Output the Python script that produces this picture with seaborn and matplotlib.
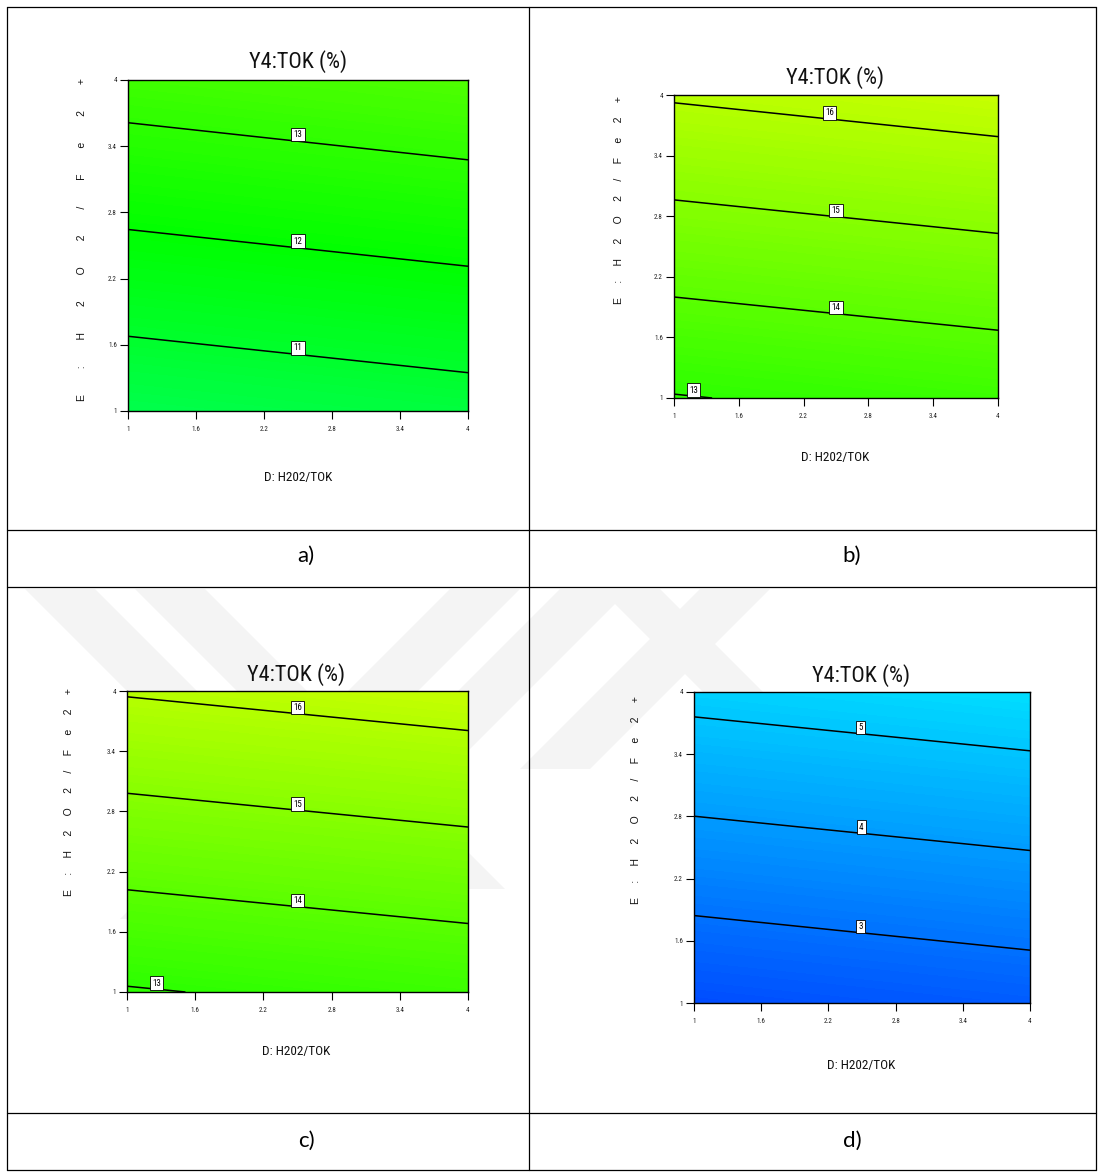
import numpy as np
import matplotlib
matplotlib.use("Agg")
import matplotlib.pyplot as plt
import seaborn as sns
from matplotlib.lines import Line2D
from matplotlib.patches import Polygon

# ---------------- data ----------------
axis_ticks = [1, 1.6, 2.2, 2.8, 3.4, 4]
tick_labels = ["1", "1.6", "2.2", "2.8", "3.4", "4"]
d_range = [1, 4]          # D: H2O2/TOK
e_range = [1, 4]          # E: H2O2/Fe2+
# response at the corners of the design space; rows: E=1, E=4 ; cols: D=1, D=4
z_a = [[10.30, 10.64], [13.40, 13.75]]
z_b = [[12.96, 13.30], [16.08, 16.43]]
z_c = [[12.94, 13.29], [16.06, 16.41]]
z_d = [[2.12, 2.47], [5.25, 5.59]]
levels_a = [11, 12, 13]
levels_b = [13, 14, 15, 16]
levels_c = [13, 14, 15, 16]
levels_d = [3, 4, 5]
# contour-label anchor points (D, E)
lab_a = [(2.5, 1.52), (2.5, 2.48), (2.5, 3.45)]
lab_b = [(1.18, 1.03), (2.5, 1.84), (2.5, 2.79), (2.44, 3.76)]
lab_c = [(1.26, 1.02), (2.5, 1.86), (2.5, 2.81), (2.5, 3.78)]
lab_d = [(2.49, 1.67), (2.49, 2.62), (2.49, 3.6)]
panel_names = ["a)", "b)", "c)", "d)"]
title_text = "Y4:TOK (%)"
xlabel_text = "D: H202/TOK"
ylabel_chars = ["E", ":", "H", "2", "O", "2", "/", "F", "e", "2", "+"]

# ---------------- style ----------------
sns.set_theme(style="white")
NARROW = ["Roboto Condensed", "Liberation Sans", "DejaVu Sans"]
plt.rcParams["font.family"] = ["Liberation Sans", "DejaVu Sans"]

W, H = 1102, 1173
fig = plt.figure(figsize=(W / 100, H / 100), dpi=100)
fig.patch.set_facecolor("white")

def fx(x):
    return x / W

def fy(y):
    return 1 - y / H

def rect(l, t, r, b):
    return [l / W, 1 - b / H, (r - l) / W, (b - t) / H]

rainbow = sns.blend_palette(["#0000ff", "#00ffff", "#00ff00", "#ffff00", "#ff0000"],
                            as_cmap=True)

# faint watermark stripes behind the lower row: (top-left x, width, direction, length)
stripes = [(25, 70, 1, 330), (135, 70, 1, 300), (450, 70, -1, 330), (560, 70, -1, 300),
           (600, 60, 1, 120), (700, 70, -1, 180)]
for x0, w, dirn, L in stripes:
    pts = [(x0, 589), (x0 + w, 589), (x0 + w + dirn * L, 589 + L), (x0 + dirn * L, 589 + L)]
    fig.add_artist(Polygon([(fx(x), fy(y)) for x, y in pts], closed=True,
                           fc="#f4f4f4", ec="none", zorder=-5,
                           transform=fig.transFigure))

panels = [
    dict(z=z_a, levels=levels_a, labs=lab_a, vmin=0.6, vmax=23.4,
         box=(128, 80, 468, 411), title=(298, 62), xl=(298, 477),
         yl=(82, 240), nsp=9),
    dict(z=z_b, levels=levels_b, labs=lab_b, vmin=0.6, vmax=23.4,
         box=(674, 95, 998, 398), title=(835, 78), xl=(835, 458),
         yl=(619, 200), nsp=5),
    dict(z=z_c, levels=levels_c, labs=lab_c, vmin=0.6, vmax=23.4,
         box=(127, 691, 468, 992), title=(296, 675), xl=(296, 1051),
         yl=(69, 792), nsp=5),
    dict(z=z_d, levels=levels_d, labs=lab_d, vmin=0.27, vmax=24.6,
         box=(694, 692, 1030, 1003), title=(861, 676), xl=(861, 1065),
         yl=(636, 800), nsp=5),
]

D, E = np.meshgrid(d_range, e_range)

for p in panels:
    ax = fig.add_axes(rect(*p["box"]))
    Z = np.array(p["z"])
    norm = matplotlib.colors.Normalize(vmin=p["vmin"], vmax=p["vmax"])
    fill_levels = np.linspace(Z.min() - 0.01, Z.max() + 0.01, 90)
    cf = ax.contourf(D, E, Z, levels=fill_levels, cmap=rainbow, norm=norm)
    cf.set_edgecolor("face")
    cf.set_linewidth(0.4)
    cs = ax.contour(D, E, Z, levels=p["levels"], colors="black", linewidths=1.1)
    texts = ax.clabel(cs, fmt="%d", fontsize=6.5, inline=False, manual=p["labs"])
    for t in texts:
        t.set_rotation(0)
        t.set_family(NARROW)
        t.set_bbox(dict(boxstyle="square,pad=0.25", fc="white", ec="black", lw=0.6))
        t.set_zorder(5)
        x, y = t.get_position()
        t.set_position((x, y + 0.06))
    ax.set_xlim(d_range)
    ax.set_ylim(e_range)
    ax.set_xticks(axis_ticks, tick_labels)
    ax.set_yticks(axis_ticks, tick_labels)
    ax.tick_params(axis="both", which="both", direction="out", length=6, width=0.8,
                   color="black", labelsize=5, labelcolor="#222222")
    ax.tick_params(axis="x", pad=5, bottom=True)
    ax.tick_params(axis="y", pad=2, left=True)
    for lab in ax.get_xticklabels() + ax.get_yticklabels():
        lab.set_family(NARROW)
    for s in ax.spines.values():
        s.set_visible(True)
        s.set_color("black")
        s.set_linewidth(1.0)
    # texts
    tx, ty = p["title"]
    fig.text(fx(tx), fy(ty), title_text, ha="center", va="center",
             fontsize=16, family=NARROW, color="#111111")
    xx, xy = p["xl"]
    fig.text(fx(xx), fy(xy), xlabel_text, ha="center", va="center",
             fontsize=9.5, family=NARROW, color="#111111")
    yx, yy = p["yl"]
    fig.text(fx(yx), fy(yy), (" " * p["nsp"]).join(ylabel_chars), ha="center",
             va="center", rotation=90, fontsize=7.5, color="#111111")

# table frame
hlines = [7, 530, 587, 1113, 1170]
for y in hlines:
    fig.add_artist(Line2D([fx(7), fx(1096)], [fy(y), fy(y)], color="black",
                          lw=0.9, transform=fig.transFigure))
for x in [7, 529, 1096]:
    fig.add_artist(Line2D([fx(x), fx(x)], [fy(7), fy(1170)], color="black",
                          lw=0.9, transform=fig.transFigure))

label_pos = [(306, 556), (852, 556), (306, 1141), (852, 1141)]
for name, (x, y) in zip(panel_names, label_pos):
    fig.text(fx(x), fy(y), name, ha="center", va="center", fontsize=16,
             family=["Lato", "DejaVu Sans"], color="black")

fig.savefig("out.png", dpi=100)
